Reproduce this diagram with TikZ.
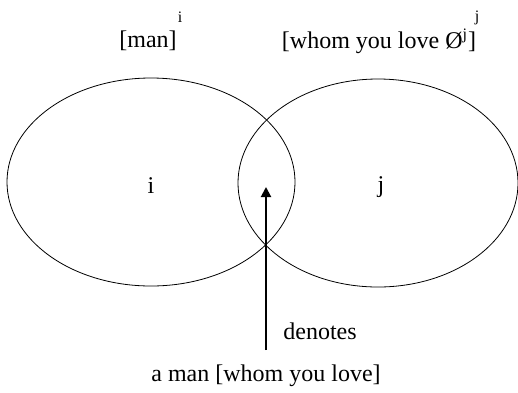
\documentclass[tikz,border=0pt]{standalone}
\usepackage{fontspec}
\setmainfont{Liberation Serif}
\usepackage{tikz}
\usetikzlibrary{arrows.meta, positioning, shapes.geometric}

\begin{document}
\begin{tikzpicture}[
  x=0.5pt, y=-0.5pt,
  set/.style={ellipse, draw, thin, inner sep=0pt},
  lbl/.style={font=\fontsize{12}{14}\selectfont, inner sep=1pt},
  idx/.style={font=\fontsize{8}{9}\selectfont, inner sep=0pt},
  denote/.style={-{Triangle[length=5pt, width=5pt]}, line width=1pt},
]
  \useasboundingbox (0,0) rectangle (518,392);

  %% Sets
  \node[set, minimum width=144pt, minimum height=104pt] (seti) at (151,182) {};
  \node[set, minimum width=140pt, minimum height=104pt] (setj) at (378,183) {};
  \node[lbl] (i) at (151,186) {i};
  \node[lbl] (j) at (381,187) {j};

  %% Bracketed phrases
  \node[lbl] (man) at (148,41) {[man]};
  \node[idx] (mani) at (180,17) {i};
  \node[lbl] (whom) at (379,41) {[whom you love Ø\textsuperscript{j}]};
  \node[idx] (whomj) at (477,18) {j};

  %% Denotation arrow
  \node[lbl] (phrase) at (266,376) {a man [whom you love]};
  \node[lbl, anchor=west] (denotes) at (281,331) {denotes};
  \coordinate (foot) at (266,350);
  \coordinate (tip) at (266,187);
  \draw[denote] (foot) -- (tip);
\end{tikzpicture}
\end{document}
